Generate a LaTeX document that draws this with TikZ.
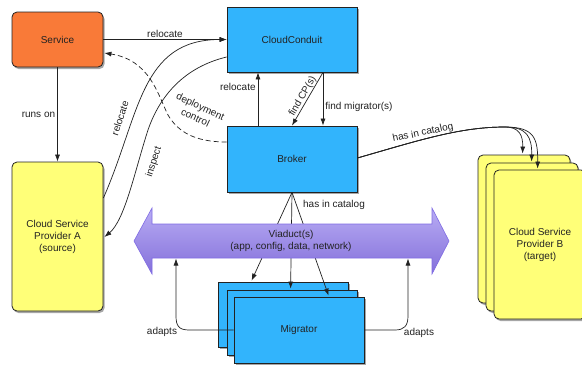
\documentclass[tikz,border=0pt]{standalone}
\usepackage{fontspec}
\setmainfont{Liberation Sans}
\usetikzlibrary{arrows.meta,shadows,calc}
\definecolor{svcorange}{RGB}{249,122,56}
\definecolor{cspyellow}{RGB}{255,255,120}
\definecolor{ccblue}{RGB}{50,180,252}
\definecolor{vtop}{RGB}{184,172,244}
\definecolor{vbot}{RGB}{132,112,218}
\definecolor{vedge}{RGB}{128,108,228}
\definecolor{ink}{RGB}{34,34,34}
\begin{document}
\begin{tikzpicture}[x=1pt,y=-1pt,
  font=\fontsize{10}{12}\selectfont, text=ink,
  box/.style={draw=ink, line width=0.8pt, inner sep=2pt, align=center,
    drop shadow={shadow xshift=1.5pt, shadow yshift=-2pt, opacity=0.35, fill=black}},
  svcbox/.style={box, fill=svcorange, rounded corners=5pt, minimum width=91pt, minimum height=55pt},
  cspbox/.style={box, fill=cspyellow, rounded corners=5pt, minimum width=91pt, minimum height=149pt},
  bluebox/.style={box, fill=ccblue, minimum width=130pt, minimum height=65pt},
  arr/.style={draw=ink, line width=0.7pt, -{Latex[length=7pt,width=5pt]}},
  lbl/.style={inner sep=2pt, align=center}
]
\useasboundingbox (0,0) rectangle (582,367);
\fill[white] (0,0) rectangle (582,367);
\clip (0,0) rectangle (582,367);

% boxes
\node[svcbox] (service) at (57.5,39.5) {Service};
\node[cspbox] (cspA) at (57.5,236.5) {Cloud Service\\Provider A\\(source)};
\node[bluebox] (cc) at (292,39.5) {CloudConduit};
\node[bluebox, minimum height=66pt] (broker) at (292,159) {Broker};
\node[bluebox] (m1) at (283,314.5) {};
\node[bluebox] (m2) at (292,322.5) {};
\node[bluebox, minimum height=66pt] (m3) at (299,330) {Migrator};
\node[cspbox, minimum width=92pt, minimum height=148pt] (b1) at (524,229) {};
\node[cspbox, minimum width=92pt, minimum height=148pt] (b2) at (532,237) {};
\node[cspbox, minimum width=92pt, minimum height=149pt] (b3) at (540,244.5) {Cloud Service\\Provider B\\(target)};

% broker -> migrators (behind the viaduct arrow)
\draw[arr] (broker.south) -- ($(m1.north west)+(34,-1)$);
\draw[arr] (broker.south) -- ($(m2.north west)+(64,-1)$);
\draw[arr] (broker.south) -- ($(m3.north west)+(95,-1)$);
\node[lbl] (hicm) at (334,205) {has in catalog};

% viaduct double arrow
\path[draw=vedge, line width=0.6pt, top color=vtop, bottom color=vbot]
  (134,241) -- (152,208) -- (152,224) -- (432,224) -- (432,208) -- (449,241)
  -- (432,274) -- (432,258) -- (152,258) -- (152,274) -- cycle;
\node[lbl] (via) at (291,241) {Viaduct(s)\\(app, config, data, network)};
\coordinate (viaL) at (176,258.5);
\coordinate (viaR) at (408,258.5);

% service -> cloudconduit
\draw[arr] (service) -- node[lbl, above] {relocate} (cc);
% runs on
\draw[arr] (service) -- node[lbl, left] {runs on} (cspA);
% deployment control (dashed)
\draw[arr, dash pattern=on 5pt off 3pt] ($(broker.west)+(0,-17)$)
  .. controls (195,142) and (178,132) .. (168,115)
  .. controls (158,95) and (150,60) .. ($(service.east)+(1,13.5)$);
\node[lbl, rotate=-25] (dc) at (198,112) {deployment\\control};
% relocate from provider A
\draw[arr] ($(cspA.east)+(0,-38.5)$) .. controls (140,115) and (140,39.5) .. (cc.west);
\node[lbl, rotate=72] (rA) at (120,118) {relocate};
% inspect
\draw[arr] ($(cc.west)+(0,17.5)$) .. controls (185,67) and (160,95) .. (148,130)
  .. controls (135,170) and (125,220) .. ($(cspA.east)+(1,0.5)$);
\node[lbl, rotate=72] (insp) at (154,162) {inspect};
% broker -> cloudconduit relocate
\draw[arr] ($(broker.north)+(-34,0)$) -- node[lbl, left, pos=0.72] {relocate} ($(cc.south)+(-34,0)$);
% find CP(s)
\draw[arr] ($(cc.south)+(31,0)$) -- node[pos=0.5, sloped, above, inner sep=0.5pt] {find CP(s)} (broker.north);
% find migrator(s)
\draw[arr] ($(cc.south)+(31,0)$) -- node[lbl, right, pos=0.65] {find migrator(s)} ($(broker.north)+(31,0)$);
% has in catalog -> provider B
\draw[arr] ($(broker.east)+(0,-1)$) .. controls (420,140) and (460,127) .. (505,127)
  .. controls (519,127) and (523,135) .. ($(b1.north west)+(45,-1)$);
\draw[arr] ($(broker.east)+(0,-1)$) .. controls (420,140) and (460,127) .. (505,127)
  .. controls (527,127) and (532,137) .. ($(b2.north west)+(46,-1)$);
\draw[arr] ($(broker.east)+(0,-1)$) .. controls (420,140) and (460,127) .. (505,127)
  .. controls (534,127) and (538,138) .. ($(b3.north west)+(44,-1)$);
\node[lbl, rotate=12] (hicb) at (423,133) {has in catalog};
% adapts
\draw[arr] (m3.west) -- (189,330) .. controls (179,330) and (176,326) .. (176,316) -- (viaL);
\node[lbl] (adL) at (162,332) {adapts};
\draw[arr] (m3.east) -- (395,330) .. controls (404,330) and (408,326) .. (408,316) -- (viaR);
\node[lbl] (adR) at (419,333) {adapts};
\end{tikzpicture}
\end{document}
